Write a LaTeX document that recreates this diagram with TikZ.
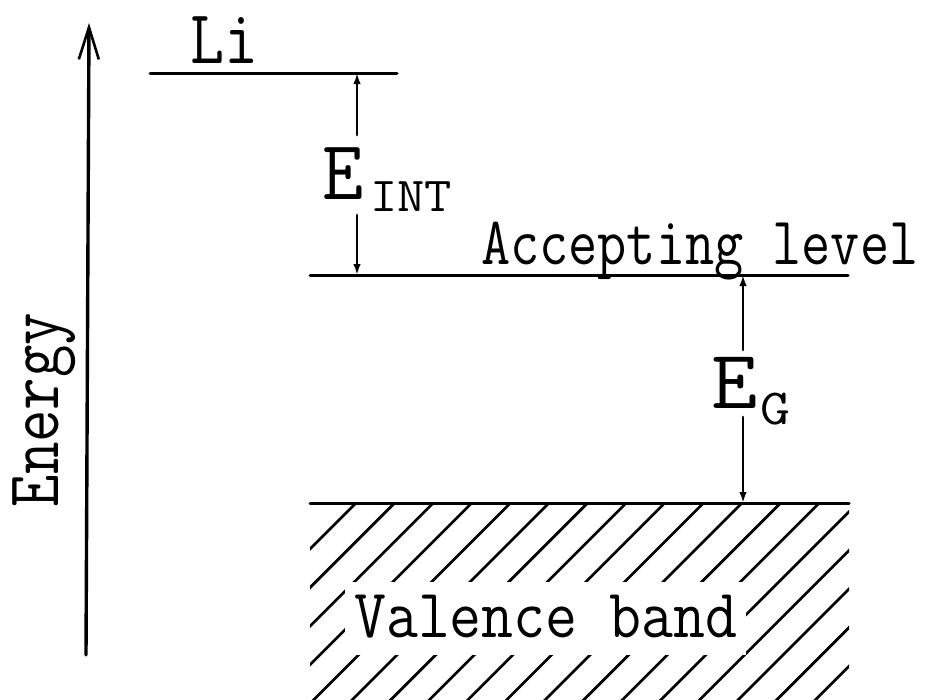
\documentclass[tikz,border=0pt]{standalone}
\usepackage{graphicx}
\usetikzlibrary{arrows.meta}
\begin{document}
\begin{tikzpicture}[x=1pt,y=-1pt,line cap=round,
  level/.style={line width=3pt},
  gaparrow/.style={line width=2.7pt,-{Latex[length=11pt,width=7.5pt]}},
  hatch/.style={line width=2.7pt},
  lbl/.style={inner sep=0pt,font=\ttfamily}]
\useasboundingbox (0,0) rectangle (933,699);
% energy axis
\coordinate (ax0) at (86,655);
\coordinate (ax1) at (89,23);
\draw[line width=3.4pt,-{Straight Barb[length=32pt,width=20pt,line width=2.6pt]}] (ax0) -- (ax1);
\node[lbl,rotate=90,anchor=base] (energy) at (58,410) {\fontsize{63}{63}\selectfont\scalebox{1}[1.19]{Energy}};
% Li level
\coordinate (li0) at (150,73);
\coordinate (li1) at (397,73);
\draw[level] (li0) -- (li1);
\node[lbl,anchor=base west] (li) at (190,63) {\fontsize{66}{66}\selectfont\scalebox{1}[1.16]{Li}};
% accepting level
\coordinate (acc0) at (310,275);
\coordinate (acc1) at (848,275);
\draw[level] (acc0) -- (acc1);
\node[lbl,anchor=base west] (acc) at (481,264) {\fontsize{56.6}{56.6}\selectfont\scalebox{1}[1.2]{Accepting level}};
% valence band
\begin{scope}
\clip (310,503) rectangle (849,700);
\foreach \k in {-10,...,7} {
  \draw[hatch] ({742+38.6*\k+250},253) -- ({742+38.6*\k-250},753);
}
\end{scope}
\fill[white] (345,582) rectangle (746,655);
\node[lbl,anchor=base west] (vb) at (354,637) {\fontsize{62}{62}\selectfont\scalebox{1}[1.12]{Valence band}};
\coordinate (vb0) at (310,503);
\coordinate (vb1) at (849,503);
\draw[level] (vb0) -- (vb1);
% E_INT
\coordinate (eintT) at (357,135);
\coordinate (eintB) at (357,215);
\draw[gaparrow] (eintT) -- (eintT |- li0);
\draw[gaparrow] (eintB) -- (eintB |- acc0);
\node[lbl,anchor=base west] (eint) at (322,199) {\fontsize{80}{80}\selectfont\scalebox{1}[1.06]{E}};
\node[lbl,anchor=base west] (int) at (370,211) {\fontsize{53}{53}\selectfont\scalebox{1}[0.92]{INT}};
% E_G
\coordinate (egT) at (743,350);
\coordinate (egB) at (743,417);
\draw[gaparrow] (egT) -- (egT |- acc0);
\draw[gaparrow] (egB) -- (egB |- vb0);
\node[lbl,anchor=base west] (eg) at (711,408) {\fontsize{90}{90}\selectfont\scalebox{1}[0.93]{E}};
\node[lbl,anchor=base west] (g) at (760,424) {\fontsize{58}{58}\selectfont\scalebox{1}[0.87]{G}};
\end{tikzpicture}
\end{document}
